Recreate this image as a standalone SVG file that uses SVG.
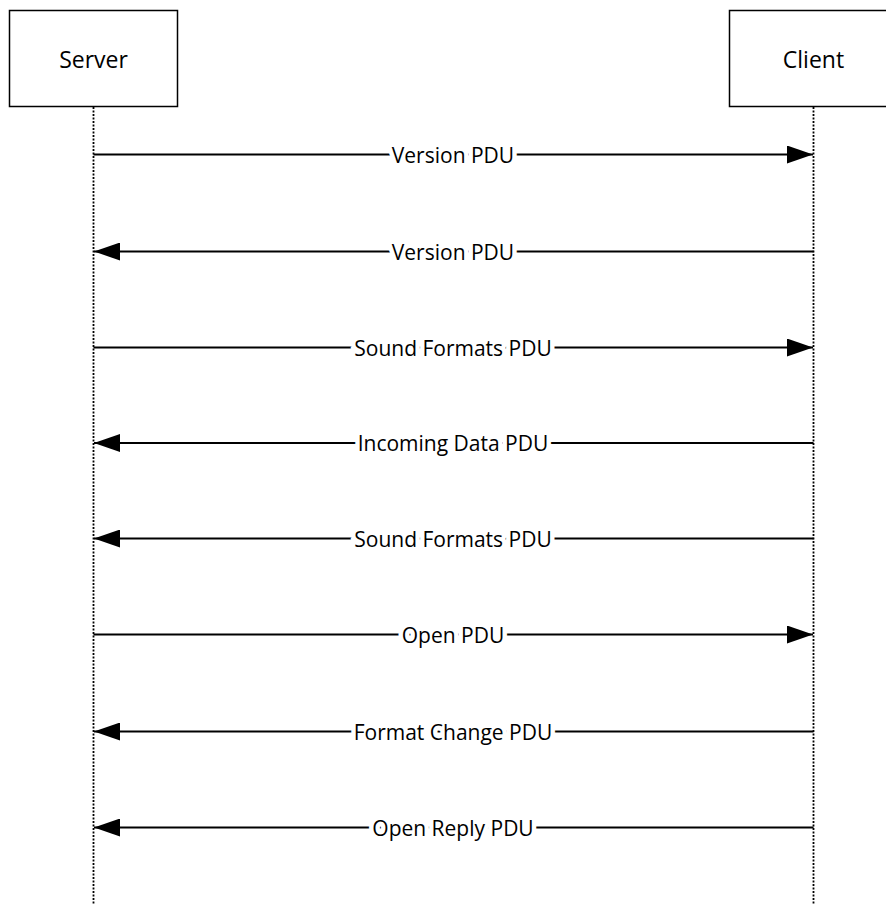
<svg xmlns="http://www.w3.org/2000/svg" width="886" height="905" viewBox="0 0 886 905">
<style>
.box{fill:#fff;stroke:#000;stroke-width:1.5}
.life{stroke:#000;stroke-width:1.8;stroke-dasharray:2,1.5;fill:none}
.msg{stroke:#000;stroke-width:2;fill:none}
.t{font-family:"Open Sans","Noto Sans",sans-serif;font-size:23px;fill:#000;text-anchor:middle}
.lbl{font-family:"Open Sans","Noto Sans",sans-serif;font-size:21px;fill:#000;text-anchor:middle;dominant-baseline:central;stroke:#fff;stroke-width:9;paint-order:stroke fill}
</style>
<defs>
<marker id="ah" markerWidth="26" markerHeight="18" refX="26" refY="9" orient="auto" markerUnits="userSpaceOnUse">
<path d="M0,0 L26,9 L0,18 Z" fill="#000"/>
</marker>
</defs>
<g id="server">
<rect class="box" x="9.5" y="10.5" width="168" height="96"/>
<text class="t" x="93.5" y="67.5">Server</text>
</g>
<g id="client">
<rect class="box" x="729.5" y="10.5" width="168" height="96"/>
<text class="t" x="813.5" y="67.5">Client</text>
</g>
<g id="lifelines">
<line class="life" x1="93.5" y1="107" x2="93.5" y2="905"/>
<line class="life" x1="813.5" y1="107" x2="813.5" y2="905"/>
</g>
<g id="connectors">
<line class="msg" x1="93.5" y1="154.5" x2="813" y2="154.5" marker-end="url(#ah)"/>
<text class="lbl" x="453" y="154.5">Version PDU</text>
<line class="msg" x1="813.5" y1="251.5" x2="94" y2="251.5" marker-end="url(#ah)"/>
<text class="lbl" x="453" y="251.5">Version PDU</text>
<line class="msg" x1="93.5" y1="347.5" x2="813" y2="347.5" marker-end="url(#ah)"/>
<text class="lbl" x="453" y="347.5">Sound Formats PDU</text>
<line class="msg" x1="813.5" y1="443" x2="94" y2="443" marker-end="url(#ah)"/>
<text class="lbl" x="453" y="443">Incoming Data PDU</text>
<line class="msg" x1="813.5" y1="538.5" x2="94" y2="538.5" marker-end="url(#ah)"/>
<text class="lbl" x="453" y="538.5">Sound Formats PDU</text>
<line class="msg" x1="93.5" y1="634.5" x2="813" y2="634.5" marker-end="url(#ah)"/>
<text class="lbl" x="453" y="634.5">Open PDU</text>
<line class="msg" x1="813.5" y1="731.5" x2="94" y2="731.5" marker-end="url(#ah)"/>
<text class="lbl" x="453" y="731.5">Format Change PDU</text>
<line class="msg" x1="813.5" y1="827.5" x2="94" y2="827.5" marker-end="url(#ah)"/>
<text class="lbl" x="453" y="827.5">Open Reply PDU</text>
</g>
</svg>
